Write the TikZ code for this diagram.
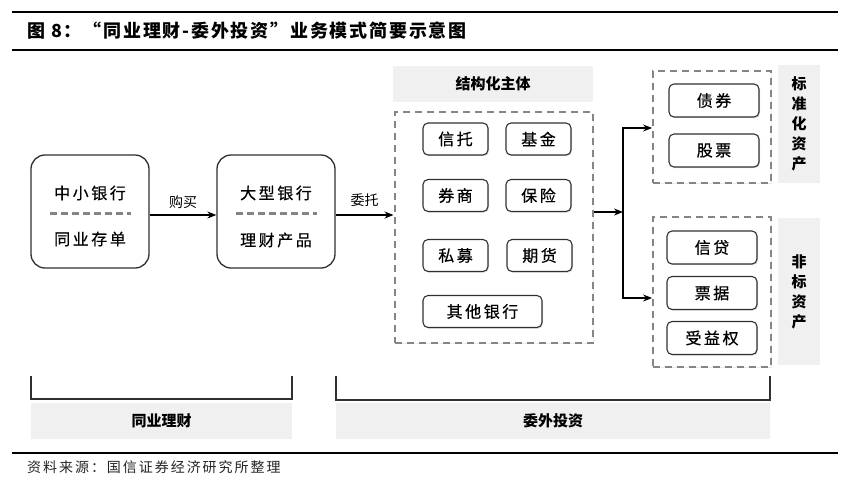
\documentclass[tikz,border=0pt]{standalone}
\usepackage{fontspec}
\setmainfont{Noto Sans CJK SC}
\newfontfamily\wide[LetterSpace=16, FakeBold=0.5]{Noto Sans CJK SC}
\newfontfamily\titlefont[LetterSpace=10]{Noto Sans CJK SC}
\newfontfamily\srcfont[LetterSpace=14]{Noto Sans CJK SC}
\usetikzlibrary{arrows.meta,shadows}
\definecolor{lightbg}{HTML}{F0F0F0}
\definecolor{dashgray}{HTML}{858585}
\definecolor{linedark}{HTML}{303030}
\tikzset{
  bigbox/.style={draw=linedark, line width=1.3pt, rounded corners=14pt, fill=white,
    minimum width=118pt, minimum height=113pt, inner sep=0pt},
  smallbox/.style={draw=linedark, line width=1.1pt, rounded corners=5pt, fill=white,
    minimum width=65pt, minimum height=32pt, inner sep=0pt,
    font=\wide\fontsize{16}{16}\selectfont,
    drop shadow={opacity=0.25, shadow xshift=1pt, shadow yshift=-1.2pt}},
  dashbox/.style={draw=dashgray, line width=1.8pt, dash pattern=on 7pt off 5pt,
    inner sep=0pt, fill=white,
    drop shadow={opacity=0.15, shadow xshift=1pt, shadow yshift=-1.2pt}},
  graybox/.style={fill=lightbg, draw=none, inner sep=0pt,
    font=\bfseries\fontsize{15}{15}\selectfont},
  boxtext/.style={font=\wide\fontsize{16}{16}\selectfont, inner sep=0pt},
  divider/.style={draw=dashgray, line width=3pt, dash pattern=on 7pt off 4pt},
  arr/.style={draw=black, line width=1.3pt, -{Stealth[length=9pt,width=7pt]}},
  conn/.style={draw=black, line width=1.3pt},
  bracket/.style={draw=linedark, line width=1.4pt},
  rule/.style={draw=black, line width=1.1pt},
  lbl/.style={font=\fontsize{14}{14}\selectfont, inner sep=0pt},
}
\begin{document}
\begin{tikzpicture}[x=1pt,y=-1pt]
\useasboundingbox (0,0) rectangle (849,488);
\fill[white] (0,0) rectangle (849,488);

% header / footer rules
\coordinate (r1a) at (12,12); \coordinate (r1b) at (838,12);
\coordinate (r2a) at (12,50); \coordinate (r2b) at (838,50);
\coordinate (r3a) at (12,453); \coordinate (r3b) at (838,453);
\draw[rule] (r1a) -- (r1b);
\draw[rule] (r2a) -- (r2b);
\draw[rule] (r3a) -- (r3b);
\node[anchor=west, inner sep=0pt, font=\titlefont\bfseries\fontsize{18}{18}\selectfont] (title) at (27,31) {图 8：“同业理财-委外投资”业务模式简要示意图};
\node[anchor=west, inner sep=0pt, font=\srcfont\fontsize{14}{14}\selectfont, text=black!85] (source) at (27,467) {资料来源：国信证券经济研究所整理};

% left boxes
\node[bigbox] (bank1) at (90,211.5) {};
\node[boxtext] (b1t) at (90,193) {中小银行};
\node[boxtext] (b1b) at (90,239) {同业存单};
\coordinate (d1a) at (50,213); \coordinate (d1b) at (131,213);
\draw[divider] (d1a) -- (d1b);

\node[bigbox] (bank2) at (276,211.5) {};
\node[boxtext] (b2t) at (276,193) {大型银行};
\node[boxtext] (b2b) at (276,240) {理财产品};
\coordinate (d2a) at (236,213); \coordinate (d2b) at (317,213);
\draw[divider] (d2a) -- (d2b);

% structured entities
\node[graybox, minimum width=200pt, minimum height=36pt] (shead) at (493,84) {结构化主体};
\node[dashbox, minimum width=198pt, minimum height=231pt] (struct) at (494,227.5) {};
\node[smallbox] (xt) at (455.5,139) {信托};
\node[smallbox] (jj) at (538.5,139) {基金};
\node[smallbox] (qs) at (455.5,195.5) {券商};
\node[smallbox] (bx) at (538.5,195.5) {保险};
\node[smallbox] (sm) at (455.5,255.5) {私募};
\node[smallbox] (qh) at (539.5,255.5) {期货};
\node[smallbox, minimum width=119pt] (qt) at (482.5,311.5) {其他银行};

% arrows left
\draw[arr] ([yshift=-3.5pt]bank1.east) -- ([yshift=-3.5pt]bank2.west)
  node[lbl, midway, above=6pt] (buy) {购买};
\coordinate (e2) at (393.5,215);
\draw[arr] ([yshift=-3.5pt]bank2.east) -- (e2)
  node[lbl, midway, above=8pt] (wt) {委托};

% standard assets
\node[dashbox, minimum width=118pt, minimum height=112pt] (std) at (712,127) {};
\node[smallbox, minimum width=90pt, minimum height=33pt] (zq) at (714,100.5) {债券};
\node[smallbox, minimum width=90pt, minimum height=33pt] (gp) at (714,150.5) {股票};
\node[graybox, minimum width=42pt, minimum height=118pt, align=center,
  font=\bfseries\fontsize{15}{20}\selectfont] (stdl) at (799,124) {标\\准\\化\\资\\产};

% non-standard assets
\node[dashbox, minimum width=118pt, minimum height=150pt] (nstd) at (712,292) {};
\node[smallbox, minimum width=90pt, minimum height=33pt] (xd) at (712,247.5) {信贷};
\node[smallbox, minimum width=90pt, minimum height=33pt] (pj) at (712,293) {票据};
\node[smallbox, minimum width=90pt, minimum height=33pt] (syq) at (712,338) {受益权};
\node[graybox, minimum width=42pt, minimum height=147pt, align=center,
  font=\bfseries\fontsize{15}{20}\selectfont] (nstdl) at (799,291.5) {非\\标\\资\\产};

% fork
\coordinate (j) at (623,212);
\coordinate (jt) at (623,128);
\coordinate (jb) at (623,298);
\draw[arr] (struct.east |- j) -- (j);
\draw[conn] (jt) -- (jb);
\draw[arr] ([xshift=-0.65pt]jt) -- (std.west |- jt);
\draw[arr] ([xshift=-0.65pt]jb) -- (nstd.west |- jb);

% bottom brackets and labels
\node[graybox, minimum width=261pt, minimum height=36pt] (g1) at (161.5,421) {同业理财};
\node[graybox, minimum width=434pt, minimum height=36pt] (g2) at (553,421) {委外投资};
\coordinate (k1a) at (31,376); \coordinate (k1b) at (31,399);
\coordinate (k1c) at (292,399); \coordinate (k1d) at (292,376);
\draw[bracket] (k1a) -- (k1b) -- (k1c) -- (k1d);
\coordinate (k2a) at (336,376); \coordinate (k2b) at (336,400);
\coordinate (k2c) at (770,400); \coordinate (k2d) at (770,376);
\draw[bracket] (k2a) -- (k2b) -- (k2c) -- (k2d);
\end{tikzpicture}
\end{document}
